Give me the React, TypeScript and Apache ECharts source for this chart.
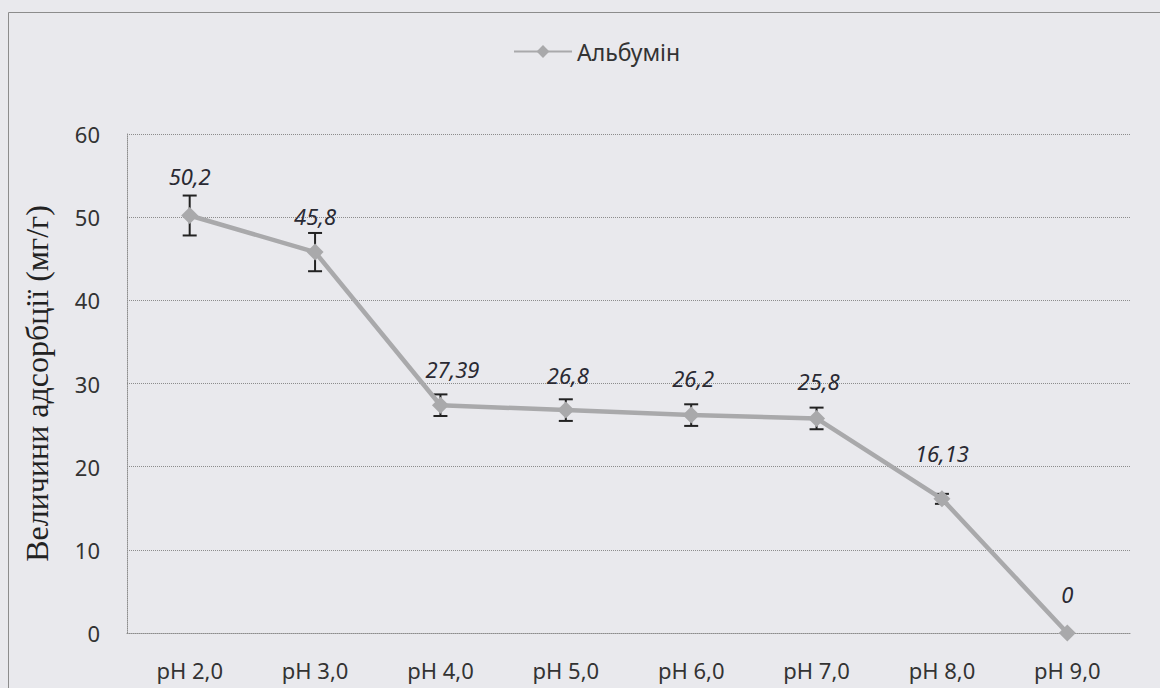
import React, { useEffect, useRef } from "react";
import * as echarts from "echarts";

const categories = ["pH 2,0", "pH 3,0", "pH 4,0", "pH 5,0", "pH 6,0", "pH 7,0", "pH 8,0", "pH 9,0"];
const values = [50.2, 45.8, 27.39, 26.8, 26.2, 25.8, 16.13, 0];
const valueLabels = ["50,2", "45,8", "27,39", "26,8", "26,2", "25,8", "16,13", "0"];
const errors = [2.4, 2.3, 1.3, 1.3, 1.3, 1.3, 0.6, 0];
const labelOffsetsX = [0, 0, 12, 2, 2, 2, 0, 0];
const labelDistances = [20, 17, 17, 16, 18, 18, 26, 20];
const seriesName = "Альбумін";
const yTitle = "Величини адсорбції (мг/г)";

export default function App() {
  const ref = useRef<HTMLDivElement>(null);
  useEffect(() => {
    if (!ref.current) return;
    const chart = echarts.init(ref.current, undefined, { renderer: "svg" });
    const gridLine = { color: "#8c8c8c", width: 1, type: "dotted" as const };
    chart.setOption({
      animation: false,
      backgroundColor: "#e9e9ed",
      graphic: [
        {
          type: "rect",
          shape: { x: 8.5, y: 12.5, width: 1200, height: 720 },
          style: { fill: "none", stroke: "#8c8c8c", lineWidth: 1 },
          silent: true,
        },
      ],
      legend: {
        top: 35,
        left: 508,
        itemWidth: 58,
        itemHeight: 16,
        itemGap: 8,
        textStyle: { fontFamily: "Noto Sans", fontSize: 23, color: "#333" },
        data: [seriesName],
      },
      grid: { left: 127, right: 30, top: 134, bottom: 55 },
      xAxis: {
        type: "category",
        data: categories,
        boundaryGap: true,
        axisLine: { show: true, lineStyle: gridLine },
        axisTick: { show: false },
        axisLabel: { fontFamily: "Noto Sans", fontSize: 22, color: "#333", margin: 26 },
      },
      yAxis: {
        type: "value",
        min: 0,
        max: 60,
        interval: 10,
        name: yTitle,
        nameLocation: "middle",
        nameGap: 74,
        nameTextStyle: { fontFamily: "Liberation Serif", fontSize: 32, color: "#222" },
        axisLine: { show: true, lineStyle: gridLine },
        axisTick: { show: false },
        splitLine: { show: true, lineStyle: gridLine },
        axisLabel: { fontFamily: "Noto Sans", fontSize: 22, color: "#333", margin: 27 },
      },
      series: [
        {
          type: "custom",
          name: "err",
          z: 1,
          silent: true,
          data: values.map((v, i) => [i, v, errors[i]]),
          renderItem: (params: any, api: any) => {
            const i = api.value(0);
            const v = api.value(1);
            const e = api.value(2);
            if (!e) return null;
            const top = api.coord([i, v + e]);
            const bot = api.coord([i, v - e]);
            const hw = 7;
            const st = { stroke: "#222", lineWidth: 2 };
            return {
              type: "group",
              children: [
                { type: "line", shape: { x1: top[0], y1: top[1], x2: bot[0], y2: bot[1] }, style: st },
                { type: "line", shape: { x1: top[0] - hw, y1: top[1], x2: top[0] + hw, y2: top[1] }, style: st },
                { type: "line", shape: { x1: bot[0] - hw, y1: bot[1], x2: bot[0] + hw, y2: bot[1] }, style: st },
              ],
            };
          },
        },
        {
          type: "line",
          name: seriesName,
          z: 3,
          smooth: false,
          symbol: "diamond",
          symbolSize: 17,
          itemStyle: { color: "#a9a9ab" },
          lineStyle: { color: "#a9a9ab", width: 4.5 },
          data: values.map((v, i) => ({
            value: v,
            label: {
              show: true,
              position: "top",
              distance: labelDistances[i],
              offset: [labelOffsetsX[i], 0],
              formatter: () => valueLabels[i],
              fontFamily: "Noto Sans",
              fontStyle: "italic",
              fontSize: 22,
              color: "#2a2a33",
            },
          })),
        },
      ],
    });
    return () => chart.dispose();
  }, []);
  return (
    <div
      ref={ref}
      style={{ position: "fixed", left: 0, top: 0, width: 1160, height: 688 }}
    />
  );
}
